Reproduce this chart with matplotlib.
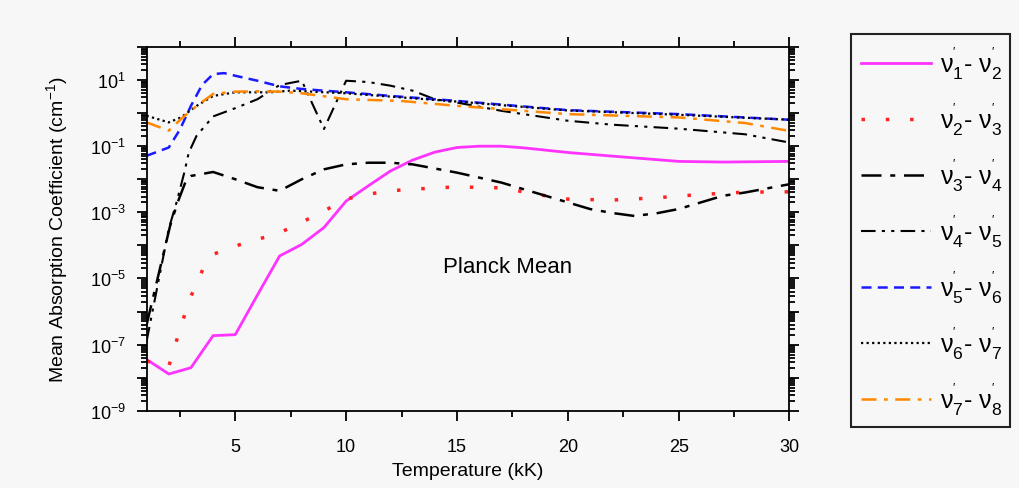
import matplotlib
matplotlib.use('Agg')
import matplotlib.pyplot as plt
from matplotlib.ticker import LogLocator, FixedLocator, NullFormatter
import numpy as np

plt.rcParams['font.family'] = ['Liberation Sans', 'DejaVu Sans']
plt.rcParams['mathtext.fontset'] = 'custom'
plt.rcParams['mathtext.rm'] = 'Liberation Sans'
plt.rcParams['mathtext.it'] = 'Liberation Sans:italic'

# data, log10 of the coefficient (cm^-1) vs T (kK)
t_12 = [1, 2, 3, 4, 5, 6, 7, 8, 9, 10, 11, 12, 13, 14, 15, 16, 17, 18, 20, 22, 25, 27, 30]
y_12 = [-7.45, -7.89, -7.7, -6.73, -6.7, -5.5, -4.32, -3.97, -3.46, -2.66, -2.2, -1.75,
        -1.42, -1.18, -1.04, -1.0, -1.0, -1.05, -1.19, -1.3, -1.46, -1.48, -1.46]

t_23 = [1, 2, 2.6, 3, 3.6, 4, 5, 6, 7, 8, 9, 10, 11, 12, 13, 15, 17, 19, 20, 22, 24, 26, 28, 30]
y_23 = [-7.5, -7.66, -6.33, -5.54, -4.63, -4.27, -4.02, -3.82, -3.62, -3.3, -2.96, -2.6,
        -2.45, -2.35, -2.3, -2.23, -2.26, -2.5, -2.6, -2.63, -2.56, -2.46, -2.39, -2.38]

t_34 = [1, 2.06, 2.4, 2.8, 3, 4, 5, 6, 7, 8, 9, 10, 11, 12, 13, 15, 17, 19, 20, 21, 22,
        23, 24, 25, 26, 27, 28, 30]
y_34 = [-6.4, -3.41, -2.7, -2.0, -1.9, -1.78, -2.0, -2.24, -2.35, -2.0, -1.7, -1.55, -1.5,
        -1.5, -1.55, -1.8, -2.1, -2.5, -2.7, -2.9, -3.02, -3.11, -3.03, -2.9, -2.7, -2.5,
        -2.4, -2.15]

t_45 = [1, 2, 2.35, 2.7, 2.9, 3.25, 4, 5, 6, 7, 8, 9, 10, 11, 12, 13, 14, 15, 17, 20,
        22, 25, 28, 30]
y_45 = [-6.9, -3.5, -2.7, -1.8, -1.2, -0.69, -0.1, 0.15, 0.42, 0.85, 0.98, -0.48, 0.98,
        0.94, 0.83, 0.68, 0.42, 0.32, 0.07, -0.23, -0.35, -0.47, -0.64, -0.89]

t_56 = [1, 2, 2.5, 3, 3.5, 4, 4.5, 5, 6, 7, 8, 10, 12, 15, 20, 25, 30]
y_56 = [-1.29, -1.04, -0.5, 0.22, 0.85, 1.18, 1.21, 1.13, 0.98, 0.81, 0.73, 0.63, 0.52,
        0.37, 0.09, -0.03, -0.2]

t_67 = [1, 2, 2.55, 3.26, 4, 5, 6.6, 7.5, 10, 15, 20, 25, 30]
y_67 = [-0.08, -0.28, -0.13, 0.22, 0.52, 0.63, 0.63, 0.68, 0.6, 0.35, 0.08, -0.05, -0.2]

t_78 = [1, 2, 2.55, 3.26, 4, 5, 6, 7, 8, 10, 12.45, 15, 20, 25, 28, 30]
y_78 = [-0.28, -0.53, -0.18, 0.22, 0.58, 0.65, 0.66, 0.65, 0.6, 0.42, 0.37, 0.22, -0.03,
        -0.13, -0.3, -0.54]

labels = ["ν$_1^{'}$- ν$_2^{'}$", "ν$_2^{'}$- ν$_3^{'}$", "ν$_3^{'}$- ν$_4^{'}$",
          "ν$_4^{'}$- ν$_5^{'}$", "ν$_5^{'}$- ν$_6^{'}$", "ν$_6^{'}$- ν$_7^{'}$",
          "ν$_7^{'}$- ν$_8^{'}$"]

series = [(t_12, y_12), (t_23, y_23), (t_34, y_34), (t_45, y_45),
          (t_56, y_56), (t_67, y_67), (t_78, y_78)]
styles = [
    dict(color='#ff33ff', lw=2.0, ls='-'),
    dict(color='#ff2222', lw=2.5, ls=(0, (1, 6))),
    dict(color='black', lw=1.8, ls=(0, (8, 3.5, 2, 3.5))),
    dict(color='black', lw=1.5, ls=(0, (7, 3, 1.5, 3, 1.5, 3))),
    dict(color='#1a1aff', lw=1.8, ls=(0, (4, 2.5))),
    dict(color='black', lw=1.6, ls=(0, (1, 1.5))),
    dict(color='#ff8800', lw=1.8, ls=(0, (6, 3, 1.5, 3))),
]

bg = '#f7f7f7'
fig = plt.figure(figsize=(10.2, 4.89), dpi=100, facecolor=bg)
ax = fig.add_axes([146.6 / 1020, 1 - 411.7 / 489, (789.5 - 146.6) / 1020, (411.7 - 48) / 489])
ax.set_facecolor(bg)

handles = []
for (t, ly), st, lab in zip(series, styles, labels):
    h, = ax.plot(t, 10 ** np.array(ly), label=lab, **st)
    handles.append(h)

ax.set_yscale('log')
ax.set_xlim(1, 30)
ax.set_ylim(1e-9, 1e2)

ax.xaxis.set_major_locator(FixedLocator([5, 10, 15, 20, 25, 30]))
ax.xaxis.set_minor_locator(FixedLocator([2.5, 7.5, 12.5, 17.5, 22.5, 27.5]))
ax.yaxis.set_minor_locator(LogLocator(base=10, subs=np.arange(2, 10), numticks=20))
ax.yaxis.set_minor_formatter(NullFormatter())
ax.set_yticks([10.0 ** k for k in range(-9, 3)])
ax.set_yticklabels([r'$10^{%d}$' % k if k % 2 else '' for k in range(-9, 3)])

ax.tick_params(which='both', direction='out', top=True, right=True, labelsize=13,
               width=1.3)
ax.tick_params(which='major', length=7)
ax.tick_params(which='minor', length=4)
ax.tick_params(axis='x', pad=13)
ax.tick_params(axis='y', pad=8)
for s in ax.spines.values():
    s.set_linewidth(1.3)

ax.set_xlabel('Temperature (kK)', fontsize=14, labelpad=5)
ax.set_ylabel(r'Mean Absorption Coefficient (cm$^{-1}$)', fontsize=14, labelpad=14)

ax.text(17.3, 2.3e-5, 'Planck Mean', fontsize=16, ha='center', va='center')

leg = fig.legend(handles=handles, labels=labels, loc='upper left',
                 bbox_to_anchor=(851 / 1020, 1 - 35 / 489, (1010 - 851) / 1020, 0),
                 mode='expand', fontsize=18, frameon=True, fancybox=False,
                 edgecolor='#222222', facecolor=bg, framealpha=1,
                 handlelength=2.8, handletextpad=0.35, labelspacing=0.77,
                 borderpad=0.4, borderaxespad=0)
leg.get_frame().set_linewidth(1.5)

fig.savefig('out.png', dpi=100, facecolor=bg)
